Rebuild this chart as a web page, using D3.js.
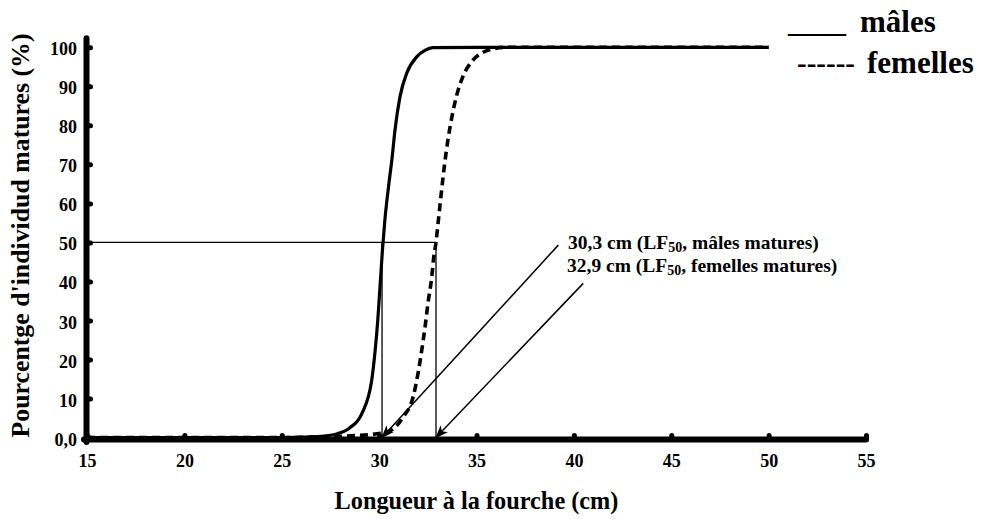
<!DOCTYPE html>
<html><head><meta charset="utf-8">
<script src="https://cdn.jsdelivr.net/npm/d3@7"></script>
<style>
body{margin:0;background:#fff}
svg{display:block}
text{font-family:"Liberation Serif","Times New Roman",serif;font-weight:bold;fill:#000}
</style></head>
<body><svg id="c" width="984" height="519"></svg>
<script>
// ---- data ----
const xTicks = [15,20,25,30,35,40,45,50,55];
const yTicks = [0,10,20,30,40,50,60,70,80,90,100];
const yTickLabels = ["0,0","10","20","30","40","50","60","70","80","90","100"];

const malesX = [15,20,25,26,27,27.82,28.5,29.1,29.62,29.79,29.93,30.05,30.17,30.3,30.5,30.65,30.82,31.07,31.43,31.94,32.35,32.77,35,40,45,50];
const malesY = [0,0,0,0.1,0.3,0.9,2.5,6,14.7,22,30,39,48,56,65,71,79,87.3,93.5,97.6,99.2,99.9,100,100,100,100];

const femellesX = [15,20,25,28.86,30.4,31.23,31.74,32.0,32.19,32.36,32.51,32.70,32.8,32.92,33.05,33.2,33.36,33.54,33.75,34.0,34.3,34.8,35.3,35.85,36.5,40,45,50];
const femellesY = [0,0,0,0.5,1.4,5.2,10.3,16.5,22.4,28.4,34.5,41,46,50,56,63,70,76.5,82.5,88,92.5,96.6,98.6,99.6,100,100,100,100];

const lf50Pos = [30.15, 32.92];        // where the LF50 guide lines sit
const lf50Level = 50;
const arrowFromX = [39.2, 40.48];
const arrowFromY = [49.3, 39.5];
const annotValue = ["30,3 cm (LF", "32,9 cm (LF"];
const annotSub = ["50", "50"];
const annotRest = [", mâles matures)", ", femelles matures)"];

const legendSymbols = ["____", "------"];
const legendLabels = ["mâles", "femelles"];

const xTitle = "Longueur à la fourche (cm)";
const yTitle = "Pourcentge d'individud matures (%)";

// ---- chart ----
const svg = d3.select("#c");
const x = d3.scaleLinear().domain([15,55]).range([87,866]);
const y = d3.scaleLinear().domain([0,100]).range([437.5,47.3]);

// reference lines
svg.append("line")
  .attr("x1", x(15)).attr("x2", x(lf50Pos[1]))
  .attr("y1", y(lf50Level)).attr("y2", y(lf50Level))
  .attr("stroke","#000").attr("stroke-width",1.4);
svg.selectAll("line.v").data(lf50Pos).enter().append("line").attr("class","v")
  .attr("x1", d=>x(d)).attr("x2", d=>x(d))
  .attr("y1", y(lf50Level)).attr("y2", y(0))
  .attr("stroke","#000").attr("stroke-width",1.3);

// curves
const line = d3.line().x(d=>x(d[0])).y(d=>y(d[1])).curve(d3.curveMonotoneX);
svg.append("path").datum(femellesX.map((v,i)=>[v,femellesY[i]]))
  .attr("d", line).attr("fill","none").attr("stroke","#000")
  .attr("stroke-width",3.6).attr("stroke-dasharray","8,5");
svg.append("path").datum(malesX.map((v,i)=>[v,malesY[i]]))
  .attr("d", line).attr("fill","none").attr("stroke","#000")
  .attr("stroke-width",3.2);

// arrows
const defs = svg.append("defs");
defs.append("marker").attr("id","ah").attr("viewBox","-1 -6 15 12")
  .attr("refX",12).attr("refY",0).attr("markerWidth",15).attr("markerHeight",12)
  .attr("markerUnits","userSpaceOnUse").attr("orient","auto")
  .append("path").attr("d","M0,-5L13,0L0,5L3.5,0Z").attr("fill","#000");
svg.selectAll("line.arr").data(lf50Pos).enter().append("line").attr("class","arr")
  .attr("x1",(d,i)=>x(arrowFromX[i])).attr("y1",(d,i)=>y(arrowFromY[i]))
  .attr("x2",d=>x(d)).attr("y2",y(0))
  .attr("stroke","#000").attr("stroke-width",1.5).attr("marker-end","url(#ah)");

// annotation text
const annX = [568, 567], annY = [249, 271.5];
annotValue.forEach((t,i)=>{
  const tx = svg.append("text").attr("x",annX[i]).attr("y",annY[i]).style("font-size","19.5px");
  tx.append("tspan").text(t);
  tx.append("tspan").attr("dy",3).style("font-size","14px").text(annotSub[i]);
  tx.append("tspan").attr("dy",-3).text(annotRest[i]);
});

// axes
const yAxis = d3.axisLeft(y).tickValues(yTicks).tickFormat((d,i)=>yTickLabels[i])
  .tickSizeInner(-4).tickSizeOuter(0).tickPadding(9.5);
const gy = svg.append("g").attr("transform","translate(86.5,0)").call(yAxis);
gy.select(".domain").remove();
gy.selectAll(".tick line").attr("stroke","#000").attr("stroke-width",5).attr("stroke-linecap","round");
gy.selectAll(".tick text").attr("dy","0.42em").style("font-size","18px")
  .style("font-family","'Liberation Serif','Times New Roman',serif").style("font-weight","bold");
gy.append("line").attr("x1",0).attr("x2",0).attr("y1",y(0)+4.5).attr("y2",y(100)-9)
  .attr("stroke","#000").attr("stroke-width",6).attr("stroke-linecap","round");

const xAxis = d3.axisBottom(x).tickValues(xTicks).tickFormat(d3.format("d"))
  .tickSizeInner(-4).tickSizeOuter(0).tickPadding(14.5);
const gx = svg.append("g").attr("transform","translate(0,439.5)").call(xAxis);
gx.select(".domain").remove();
gx.selectAll(".tick line").attr("stroke","#000").attr("stroke-width",5).attr("stroke-linecap","round");
gx.selectAll(".tick text").style("font-size","18px")
  .style("font-family","'Liberation Serif','Times New Roman',serif").style("font-weight","bold");
gx.append("line").attr("x1",x(15)-3).attr("x2",x(55)).attr("y1",0).attr("y2",0)
  .attr("stroke","#000").attr("stroke-width",6).attr("stroke-linecap","round");

// titles
svg.append("text").attr("x",476.5).attr("y",509).attr("text-anchor","middle")
  .style("font-size","24.3px").text(xTitle);
svg.append("text").attr("transform","translate(29,235.5) rotate(-90)").attr("text-anchor","middle")
  .style("font-size","25.8px").text(yTitle);

// legend
const legX = [788, 797], legLabX = [860, 867], legY = [32, 73];
legendLabels.forEach((lab,i)=>{
  svg.append("text").attr("x",legX[i]).attr("y",legY[i]).style("font-size","29px")
    .text(legendSymbols[i]);
  svg.append("text").attr("x",legLabX[i]).attr("y",legY[i]).style("font-size","31px")
    .text(lab);
});
</script></body></html>
